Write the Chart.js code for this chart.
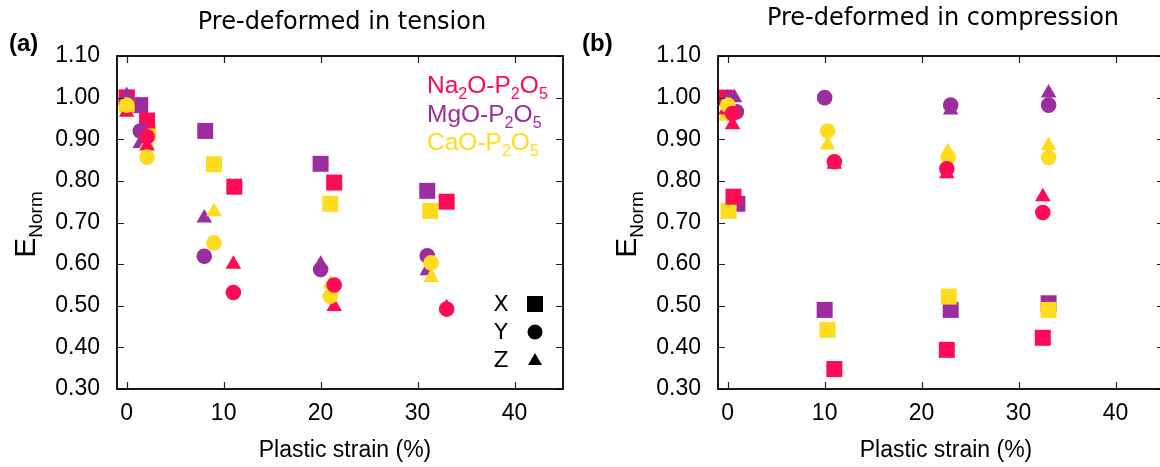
<!DOCTYPE html>
<html>
<head>
<meta charset="utf-8">
<script src="https://cdn.jsdelivr.net/npm/chart.js@4.4.0/dist/chart.umd.min.js"></script>
<style>
  html, body { margin: 0; padding: 0; background: #fff; overflow: hidden; width: 1160px; height: 467px; }
  .panel { position: absolute; top: 0; }
  #panelA { left: 0; }
  #panelB { left: 580px; }
</style>
</head>
<body>
<div class="panel" id="panelA"><canvas id="chartA" width="580" height="467"></canvas></div>
<div class="panel" id="panelB"><canvas id="chartB" width="600" height="467"></canvas></div>
<script>
/* Normalised Young's modulus vs plastic strain, two panels (tension / compression). */

const NA_COLOR = "#ff0a55";
const MG_COLOR = "#9b2d9f";
const CA_COLOR = "#ffdc1e";

const X_TICKS = [0, 10, 20, 30, 40];
const Y_TICKS = [0.3, 0.4, 0.5, 0.6, 0.7, 0.8, 0.9, 1.0, 1.1];

// [plastic strain %, E_norm]  -- X = square, Y = circle, Z = triangle
// pre-deformed in tension
const tenNaX = [[0, 1.0], [2.1, 0.945], [11.1, 0.786], [21.4, 0.796], [33.0, 0.75]];
const tenNaY = [[2.1, 0.906], [11.0, 0.532], [21.4, 0.55], [33.0, 0.492]];
const tenNaZ = [[0, 0.965], [2.1, 0.884], [11.0, 0.6], [21.4, 0.498], [33.0, 0.495]];
const tenMgX = [[0, 1.0], [1.4, 0.982], [8.1, 0.92], [20.0, 0.841], [31.0, 0.776]];
const tenMgY = [[1.4, 0.92], [8.0, 0.619], [20.0, 0.587], [31.0, 0.62]];
const tenMgZ = [[0, 1.005], [1.4, 0.89], [8.0, 0.711], [20.0, 0.6], [31.0, 0.584]];
const tenCaX = [[0, 0.985], [2.2, 0.915], [9.0, 0.84], [21.0, 0.745], [31.3, 0.728]];
const tenCaY = [[0, 0.982], [2.1, 0.857], [9.0, 0.651], [21.0, 0.523], [31.4, 0.603]];
const tenCaZ = [[0, 0.975], [2.1, 0.89], [9.0, 0.726], [21.0, 0.552], [31.4, 0.568]];

// pre-deformed in compression
const comNaX = [[-0.2, 1.0], [0.6, 0.762], [11.0, 0.348], [22.6, 0.394], [32.5, 0.423]];
const comNaY = [[0.5, 0.962], [11.0, 0.846], [22.6, 0.829], [32.5, 0.724]];
const comNaZ = [[-0.2, 0.97], [0.5, 0.935], [11.0, 0.84], [22.6, 0.817], [32.5, 0.762]];
const comMgX = [[1.0, 0.745], [10.0, 0.49], [23.0, 0.49], [33.1, 0.506]];
const comMgY = [[0.9, 0.966], [10.0, 1.0], [23.0, 0.982], [33.1, 0.982]];
const comMgZ = [[0, 1.0], [0.7, 1.0], [23.0, 0.97], [33.1, 1.011]];
const comCaX = [[0.1, 0.728], [10.3, 0.442], [22.8, 0.522], [33.1, 0.49]];
const comCaY = [[0, 0.982], [10.3, 0.92], [22.75, 0.857], [33.1, 0.856]];
const comCaZ = [[-0.2, 0.955], [10.3, 0.886], [22.7, 0.87], [33.1, 0.885]];

const AREA_TOP = 56;
const AREA_BOTTOM = 389;
const TICK_FONT = { family: "Liberation Sans", size: 23 };

function toPoints(arr) {
  return arr.map(([x, y]) => ({ x, y }));
}

// first dataset is drawn on top in Chart.js
function buildDatasets(s) {
  const mk = (data, color, style, radius) => ({
    data: toPoints(data),
    pointStyle: style,
    pointRadius: radius,
    pointBackgroundColor: color,
    pointBorderColor: color,
    pointBorderWidth: 0,
    showLine: false,
  });
  return [
    mk(s.naY, NA_COLOR, "circle", 7.8),
    mk(s.caY, CA_COLOR, "circle", 7.8),
    mk(s.mgY, MG_COLOR, "circle", 7.8),
    mk(s.naZ, NA_COLOR, "triangle", 9),
    mk(s.caZ, CA_COLOR, "triangle", 9),
    mk(s.mgZ, MG_COLOR, "triangle", 9),
    mk(s.naX, NA_COLOR, "rect", 11.3),
    mk(s.caX, CA_COLOR, "rect", 11.3),
    mk(s.mgX, MG_COLOR, "rect", 11.3),
  ];
}

function drawRich(ctx, parts, x, y, size, color) {
  ctx.fillStyle = color;
  ctx.textBaseline = "alphabetic";
  ctx.textAlign = "left";
  let cx = x;
  parts.forEach(([t, sub]) => {
    const fs = sub ? size * 0.66 : size;
    ctx.font = `${fs}px "Liberation Sans"`;
    ctx.fillText(t, cx, sub ? y + size * 0.26 : y);
    cx += ctx.measureText(t).width;
  });
}

const decorPlugin = {
  id: "decor",
  afterDraw(chart, args, o) {
    const ctx = chart.ctx;
    const a = chart.chartArea;
    const xs = chart.scales.x;
    const ys = chart.scales.y;
    ctx.save();

    // inward ticks on all four sides
    ctx.strokeStyle = "#222";
    ctx.lineWidth = 1.2;
    ctx.beginPath();
    X_TICKS.forEach((v) => {
      const px = Math.round(xs.getPixelForValue(v)) + 0.5;
      ctx.moveTo(px, a.bottom); ctx.lineTo(px, a.bottom - 7);
      ctx.moveTo(px, a.top); ctx.lineTo(px, a.top + 7);
    });
    Y_TICKS.forEach((v) => {
      const py = Math.round(ys.getPixelForValue(v)) + 0.5;
      ctx.moveTo(a.left, py); ctx.lineTo(a.left + 7, py);
      ctx.moveTo(a.right, py); ctx.lineTo(a.right - 7, py);
    });
    ctx.stroke();

    // frame
    ctx.strokeStyle = "#000";
    ctx.lineWidth = 1.8;
    ctx.strokeRect(a.left, a.top, a.right - a.left, a.bottom - a.top);

    const cx = (a.left + a.right) / 2;

    // panel title
    ctx.fillStyle = "#000";
    ctx.font = '24px "DejaVu Sans"';
    ctx.textAlign = "center";
    ctx.textBaseline = "alphabetic";
    ctx.fillText(o.title, cx + 2, o.titleY);

    // panel letter
    ctx.font = 'bold 24px "Liberation Sans"';
    ctx.textAlign = "left";
    ctx.fillText(o.letter, o.letterX, 51);

    // x axis title
    ctx.font = '23px "Liberation Sans"';
    ctx.textAlign = "center";
    ctx.fillText("Plastic strain (%)", cx + 5, 457);

    // y axis title E_Norm
    ctx.save();
    ctx.translate(a.left - 82, (a.top + a.bottom) / 2 + 2);
    ctx.rotate(-Math.PI / 2);
    ctx.fillStyle = "#000";
    ctx.textAlign = "left";
    ctx.font = '30px "Liberation Sans"';
    const wE = ctx.measureText("E").width;
    ctx.font = '19px "Liberation Sans"';
    const wN = ctx.measureText("Norm").width;
    const w = wE + wN;
    ctx.font = '30px "Liberation Sans"';
    ctx.fillText("E", -w / 2, 0);
    ctx.font = '19px "Liberation Sans"';
    ctx.fillText("Norm", -w / 2 + wE, 7);
    ctx.restore();

    if (o.legend) {
      drawRich(ctx, [["Na", 0], ["2", 1], ["O-P", 0], ["2", 1], ["O", 0], ["5", 1]], 427, 93, 24.5, NA_COLOR);
      drawRich(ctx, [["MgO-P", 0], ["2", 1], ["O", 0], ["5", 1]], 427, 122, 24.5, MG_COLOR);
      drawRich(ctx, [["CaO-P", 0], ["2", 1], ["O", 0], ["5", 1]], 427, 150, 24.5, CA_COLOR);

      // direction key
      ctx.fillStyle = "#000";
      ctx.font = '22px "DejaVu Sans"';
      ctx.textAlign = "center";
      ctx.textBaseline = "middle";
      ctx.fillText("X", 501, 305);
      ctx.fillText("Y", 501, 333);
      ctx.fillText("Z", 501, 361);
      ctx.fillRect(527, 296, 16, 16);
      ctx.beginPath();
      ctx.arc(535, 332, 7.5, 0, Math.PI * 2);
      ctx.fill();
      ctx.beginPath();
      ctx.moveTo(535, 353); ctx.lineTo(542, 365); ctx.lineTo(528, 365);
      ctx.closePath();
      ctx.fill();
    }
    ctx.restore();
  },
};

function buildChart(id, cfg) {
  return new Chart(document.getElementById(id), {
    type: "scatter",
    data: { datasets: buildDatasets(cfg.series) },
    options: {
      responsive: false,
      animation: false,
      events: [],
      layout: { padding: { left: 0, top: AREA_TOP, right: cfg.padRight, bottom: 0 } },
      plugins: {
        legend: { display: false },
        tooltip: { enabled: false },
        decor: cfg.decor,
      },
      scales: {
        x: {
          type: "linear",
          min: -1,
          max: 45,
          grid: { display: false },
          border: { display: false },
          afterBuildTicks: (s) => { s.ticks = X_TICKS.map((v) => ({ value: v })); },
          afterFit: (s) => { s.height = 467 - AREA_BOTTOM; },
          ticks: { font: TICK_FONT, color: "#000", padding: 3, maxRotation: 0, autoSkip: false },
        },
        y: {
          type: "linear",
          min: 0.3,
          max: 1.1,
          grid: { display: false },
          border: { display: false },
          afterBuildTicks: (s) => { s.ticks = Y_TICKS.map((v) => ({ value: v })); },
          afterFit: (s) => { s.width = cfg.areaLeft; },
          ticks: { font: TICK_FONT, color: "#000", padding: 9, callback: (v) => Number(v).toFixed(2) },
        },
      },
    },
    plugins: [decorPlugin],
  });
}

buildChart("chartA", {
  areaLeft: 117,
  padRight: 17,
  series: { naX: tenNaX, naY: tenNaY, naZ: tenNaZ, mgX: tenMgX, mgY: tenMgY, mgZ: tenMgZ, caX: tenCaX, caY: tenCaY, caZ: tenCaZ },
  decor: { title: "Pre-deformed in tension", titleY: 29, letter: "(a)", letterX: 9, legend: true },
});

buildChart("chartB", {
  areaLeft: 138,
  padRight: 16,
  series: { naX: comNaX, naY: comNaY, naZ: comNaZ, mgX: comMgX, mgY: comMgY, mgZ: comMgZ, caX: comCaX, caY: comCaY, caZ: comCaZ },
  decor: { title: "Pre-deformed in compression", titleY: 25, letter: "(b)", letterX: 2, legend: false },
});
</script>
</body>
</html>
